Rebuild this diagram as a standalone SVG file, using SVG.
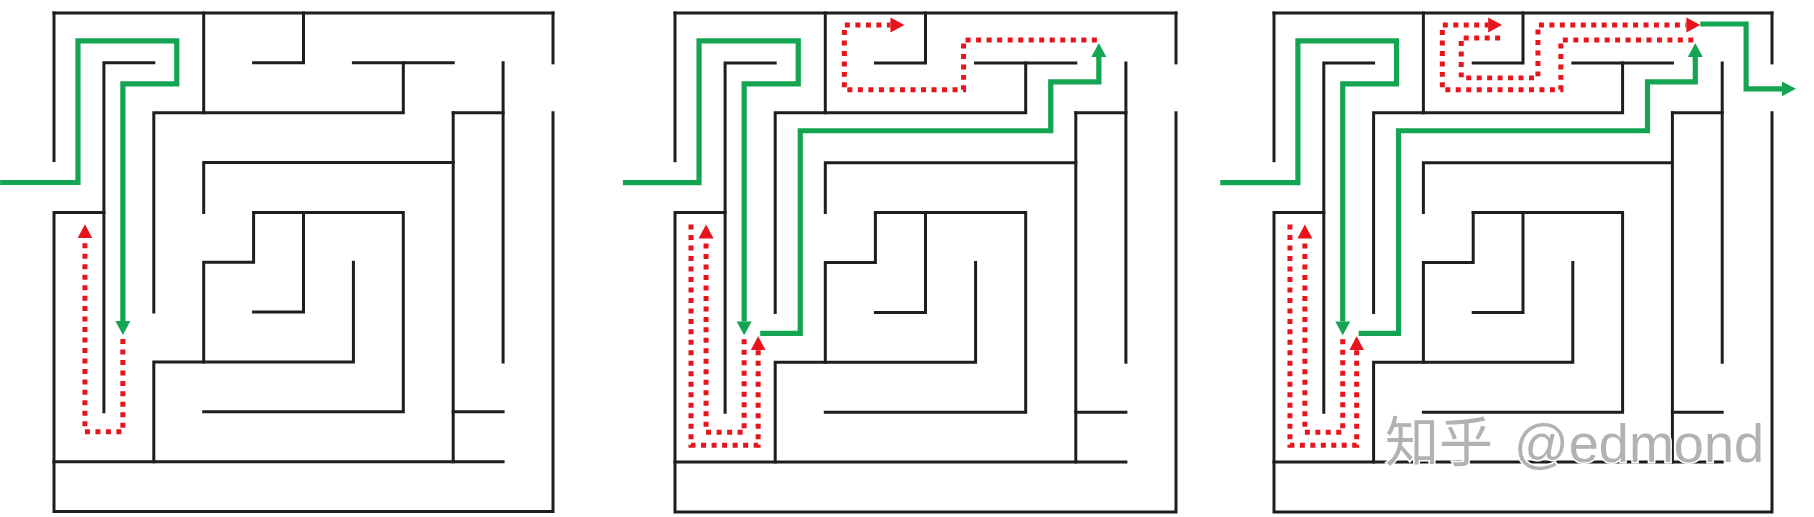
<svg xmlns="http://www.w3.org/2000/svg" xmlns:xlink="http://www.w3.org/1999/xlink" width="1814" height="517" viewBox="0 0 1814 517">
<style>
.wall{fill:none;stroke:#1e1e1e;stroke-width:3;stroke-linecap:square;stroke-linejoin:miter}
.g{fill:none;stroke:#14a552;stroke-width:5.2;stroke-linejoin:miter;marker-end:url(#ag)}
.r{fill:none;stroke:#e8141c;stroke-width:5;stroke-dasharray:5 5.5;stroke-linejoin:miter;marker-end:url(#ar)}
.wm{font-family:"Liberation Sans","Noto Sans CJK SC",sans-serif;font-size:54px;fill:#b2b2b2;stroke:#ffffff;stroke-width:3;paint-order:stroke}
</style>
<defs>
<marker id="ag" markerUnits="userSpaceOnUse" markerWidth="18" markerHeight="18" viewBox="0 -9 18 18" refX="0" refY="0" orient="auto"><path d="M0,-7.5 L14,0 L0,7.5 z" fill="#14a552"/></marker>
<marker id="ar" markerUnits="userSpaceOnUse" markerWidth="18" markerHeight="18" viewBox="0 -9 18 18" refX="0" refY="0" orient="auto"><path d="M0,-7.5 L14,0 L0,7.5 z" fill="#e8141c"/></marker>
<g id="walls" class="wall">
<path d="M0,0 H500"/>
<path d="M0,0 V148"/>
<path d="M500,0 V50"/>
<path d="M500,100 V500 H0 V200 H50"/>
<path d="M100,50 H50 V400"/>
<path d="M150,0 V100"/>
<path d="M100,300 V100 H350 V50"/>
<path d="M300,50 H400"/>
<path d="M200,50 H250 V0"/>
<path d="M450,50 V350"/>
<path d="M400,100 H450"/>
<path d="M400,100 V450"/>
<path d="M150,200 V150 H400"/>
<path d="M200,200 H350 V400 H150"/>
<path d="M200,200 V250 H150 V350"/>
<path d="M300,250 V350 H100 V450"/>
<path d="M250,200 V300 H200"/>
<path d="M400,400 H450"/>
<path d="M0,450 H450"/>
</g>
</defs>

<g id="maze1" transform="translate(54,13) scale(0.998,0.997)">
<use href="#walls"/>
<g id="paths1">
<path class="g" d="M-54,170 H24 V28 H123 V71 H69 V309"/>
<path class="r" d="M69,327 V420 H31 V226"/>
</g>
</g>

<g id="maze2" transform="translate(675,13) scale(1.002,0.998)">
<use href="#walls"/>
<g id="paths2">
<path class="g" d="M-52,170 H24 V28 H123 V71 H69 V309"/>
<path class="r" d="M69,327 V420 H31 V226"/>
<path class="r" d="M16,212 V433 H83 V338"/>
<path class="g" d="M85,321 H125 V118 H375 V69 H423 V44"/>
<path class="r" d="M421,27 H288 V77 H169 V12 H215"/>
</g>
</g>

<g id="maze3" transform="translate(1274,13) scale(0.996,0.998)">
<use href="#walls"/>
<g id="paths3">
<path class="g" d="M-54,170 H24 V28 H123 V71 H69 V309"/>
<path class="r" d="M69,327 V420 H31 V226"/>
<path class="r" d="M16,212 V433 H83 V338"/>
<path class="g" d="M85,321 H125 V118 H375 V69 H423 V44"/>
<path class="r" d="M421,27 H288 V77 H169 V12 H215"/>
<path class="r" d="M227,25 H188 V65 H265 V12 H414"/>
<path class="g" d="M428,11 H474 V76 H510"/>
</g>
</g>

<g id="watermark">
<text class="wm" x="1385" y="462">知乎<tspan x="1514">@edmond</tspan></text>
</g>
</svg>
